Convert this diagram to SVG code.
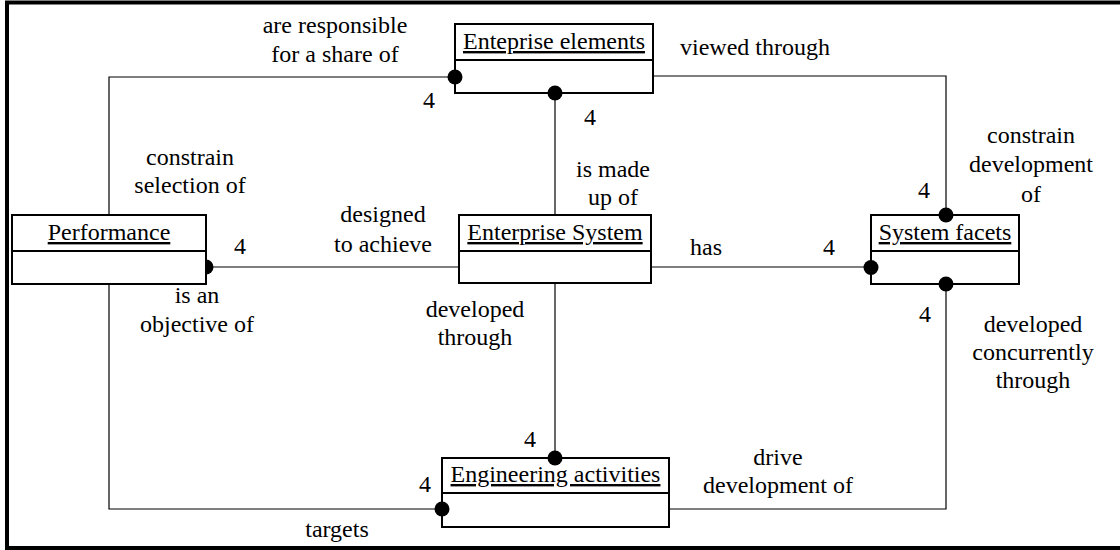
<svg xmlns="http://www.w3.org/2000/svg" width="1120" height="550" viewBox="0 0 1120 550" font-family="Liberation Serif" font-size="24">
  <style>
    text { font-family: 'Liberation Serif', serif; font-size: 24px; fill: #000; text-anchor: middle; }
    .title { text-decoration: underline; }
    .box { fill: #fff; stroke: #000; stroke-width: 2; }
    .div { stroke: #000; stroke-width: 2.2; }
    .link { fill: none; stroke: #000; stroke-width: 1.2; }
    .end { fill: #000; }
  </style>
  <rect width="1120" height="550" fill="#fff"/>
  <!-- frame -->
  <rect x="7" y="2.5" width="1130" height="545.5" fill="none" stroke="#000" stroke-width="4"/>

  <g id="connectors">
    <!-- Performance to Enteprise elements -->
    <polyline class="link" points="109,215 109,77 455,77"/>
    <!-- Performance to Enterprise System -->
    <line class="link" x1="206" y1="267" x2="459" y2="267"/>
    <!-- Enterprise System to Enteprise elements -->
    <line class="link" x1="555" y1="93" x2="555" y2="215"/>
    <!-- Enteprise elements to System facets -->
    <polyline class="link" points="653,76 946,76 946,215"/>
    <!-- Enterprise System to System facets -->
    <line class="link" x1="651" y1="267" x2="871" y2="267"/>
    <!-- Enterprise System to Engineering activities -->
    <line class="link" x1="555" y1="283" x2="555" y2="458"/>
    <!-- Performance to Engineering activities -->
    <polyline class="link" points="109,284 109,509 442,509"/>
    <!-- System facets to Engineering activities -->
    <polyline class="link" points="946,284 946,509 669,509"/>
  </g>

  <g id="performance">
    <rect class="box" x="12" y="215" width="194" height="69"/>
    <line class="div" x1="12" y1="251" x2="206" y2="251"/>
    <text class="title" x="109" y="240">Performance</text>
  </g>
  <g id="enteprise-elements">
    <rect class="box" x="455" y="24" width="198" height="69"/>
    <line class="div" x1="455" y1="60" x2="653" y2="60"/>
    <text class="title" x="554" y="49">Enteprise elements</text>
  </g>
  <g id="enterprise-system">
    <rect class="box" x="459" y="215" width="192" height="68"/>
    <line class="div" x1="459" y1="251" x2="651" y2="251"/>
    <text class="title" x="555" y="240">Enterprise System</text>
  </g>
  <g id="system-facets">
    <rect class="box" x="871" y="215" width="148" height="69"/>
    <line class="div" x1="871" y1="251" x2="1019" y2="251"/>
    <text class="title" x="945" y="240">System facets</text>
  </g>
  <g id="engineering-activities">
    <rect class="box" x="442" y="458" width="227" height="69"/>
    <line class="div" x1="442" y1="493" x2="669" y2="493"/>
    <text class="title" x="555.5" y="482">Engineering activities</text>
  </g>

  <!-- association ends -->
  <g id="ends">
    <path class="end" d="M206,259.5 A7.5,7.5 0 0 1 206,274.5 Z"/>
    <circle class="end" cx="455" cy="77" r="7.5"/>
    <circle class="end" cx="555" cy="93" r="7.5"/>
    <circle class="end" cx="946" cy="215" r="7.5"/>
    <circle class="end" cx="871" cy="267.5" r="7.5"/>
    <circle class="end" cx="946" cy="284" r="7.5"/>
    <circle class="end" cx="555" cy="458" r="7.5"/>
    <circle class="end" cx="442" cy="509" r="7.5"/>
  </g>

  <g id="labels">
    <text x="335" y="33">are responsible</text>
    <text x="335" y="62">for a share of</text>
    <text x="429" y="108">4</text>
    <text x="190" y="165">constrain</text>
    <text x="190" y="193">selection of</text>
    <text x="383" y="222">designed</text>
    <text x="383" y="252">to achieve</text>
    <text x="240" y="254">4</text>
    <text x="613" y="177">is made</text>
    <text x="613" y="205">up of</text>
    <text x="590" y="125">4</text>
    <text x="755" y="55">viewed through</text>
    <text x="1031" y="143">constrain</text>
    <text x="1031" y="172">development</text>
    <text x="1031" y="202">of</text>
    <text x="924" y="198">4</text>
    <text x="706" y="255">has</text>
    <text x="829" y="255">4</text>
    <text x="197" y="303">is an</text>
    <text x="197" y="332">objective of</text>
    <text x="475" y="317">developed</text>
    <text x="475" y="345">through</text>
    <text x="530" y="447">4</text>
    <text x="425" y="492">4</text>
    <text x="337" y="537">targets</text>
    <text x="925" y="322">4</text>
    <text x="1033" y="332">developed</text>
    <text x="1033" y="360">concurrently</text>
    <text x="1033" y="388">through</text>
    <text x="778" y="465">drive</text>
    <text x="778" y="493">development of</text>
  </g>
</svg>
